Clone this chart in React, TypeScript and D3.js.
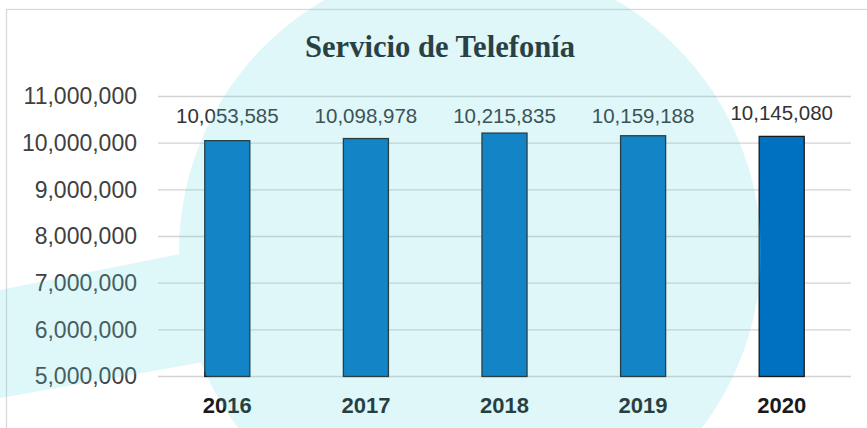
import React from "react";
import * as d3 from "d3";

const categories = ["2016", "2017", "2018", "2019", "2020"];
const values = [10053585, 10098978, 10215835, 10159188, 10145080];
const yTicks = [5000000, 6000000, 7000000, 8000000, 9000000, 10000000, 11000000];
const title = "Servicio de Telefonía";

const W = 867;
const H = 428;

export default function App() {
  const x = d3
    .scaleBand<string>()
    .domain(categories)
    .range([158, 851])
    .paddingInner(0.675)
    .paddingOuter(0.3375);
  const y = d3.scaleLinear().domain([5000000, 11000000]).range([376.5, 96.5]);
  const fmt = d3.format(",");

  return (
    <svg
      width={W}
      height={H}
      style={{ position: "absolute", left: 0, top: 0, background: "#fff" }}
      fontFamily="'Liberation Sans', Arial, sans-serif"
    >
      <rect x={6.5} y={9.5} width={W + 10} height={H + 10} fill="#fff" stroke="#d9d9d9" strokeWidth={1.3} />
      <text
        x={440}
        y={57}
        textAnchor="middle"
        fontFamily="'Liberation Serif', 'Times New Roman', serif"
        fontWeight="bold"
        fontSize={30.5}
        fill="#1c1c1c"
        textLength={270}
        lengthAdjust="spacingAndGlyphs"
      >
        {title}
      </text>
      {yTicks.map((t) => (
        <g key={t}>
          <line x1={158} x2={851} y1={y(t)} y2={y(t)} stroke="#d4d4d4" strokeWidth={1.4} />
          <text x={137} y={y(t) + 7.8} textAnchor="end" fontSize={23} fill="#404040">
            {fmt(t)}
          </text>
        </g>
      ))}
      {categories.map((c, i) => {
        const bx = x(c)!;
        const bw = x.bandwidth();
        return (
          <g key={c}>
            <rect
              x={bx}
              y={y(values[i])}
              width={bw}
              height={y(5000000) - y(values[i])}
              fill="#0070C0"
              stroke="#1a1a1a"
              strokeWidth={1.3}
            />
            <text
              x={bx + bw / 2}
              y={y(11000000) + (i === categories.length - 1 ? 23.5 : 26.5)}
              textAnchor="middle"
              fontSize={20.5}
              fill="#333"
            >
              {fmt(values[i])}
            </text>
            <text
              x={bx + bw / 2}
              y={413}
              textAnchor="middle"
              fontSize={22}
              fontWeight="bold"
              fill="#1a1a1a"
            >
              {c}
            </text>
          </g>
        );
      })}
      <g opacity={0.2} style={{ pointerEvents: "none" }}>
        <circle cx={470} cy={252} r={291} fill="rgb(94,216,225)" />
        <polygon points="0,290 200,250 215,360 0,398" fill="rgb(94,216,225)" />
      </g>
    </svg>
  );
}
